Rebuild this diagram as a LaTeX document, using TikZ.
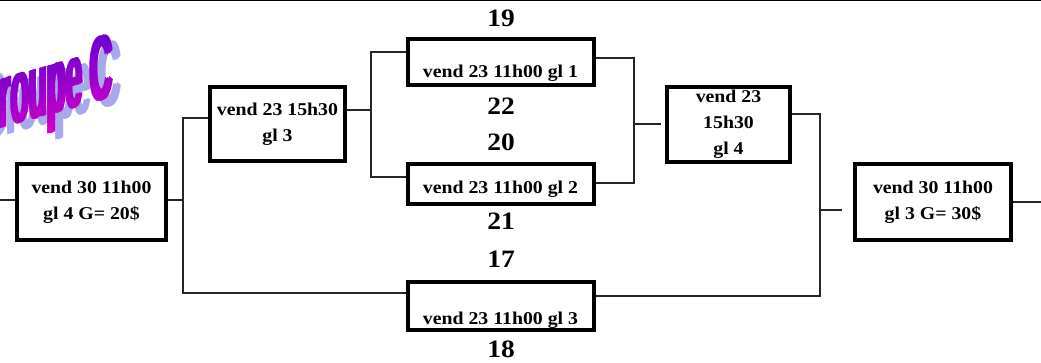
\documentclass[tikz,border=0pt]{standalone}
\usepackage{fontspec}
\newfontfamily\boxfont[FakeStretch=1.1]{Liberation Serif}
\newfontfamily\wafont{Liberation Sans}
\definecolor{wtop}{RGB}{100,0,208}
\definecolor{wbot}{RGB}{210,0,200}
\definecolor{wshadow}{RGB}{168,168,236}
\tikzset{
  matchbox/.style={draw, line width=4pt, inner sep=2pt, align=center,
    font=\boxfont\bfseries\fontsize{18}{26}\selectfont},
  score/.style={inner sep=0pt, font=\boxfont\bfseries\fontsize{25}{25}\selectfont},
  wire/.style={draw=black!85, line width=1.1pt},
  wordart/.style={font=\wafont\bfseries\fontsize{92}{92}\selectfont, inner sep=0pt,
    anchor=base east, transform shape},
  waslant/.style={yslant=0.28, xscale=0.326}
}
\begin{document}
\begin{tikzpicture}[x=1pt, y=-1pt]
\useasboundingbox (0,0) rectangle (1041,363);
\clip (0,0) rectangle (1041,363);

% top rule
\coordinate (T0) at (0,0.75);
\coordinate (T1) at (1041,0.75);
\draw[line width=1.5pt] (T0) -- (T1);

% WordArt title (shadow, then gradient face; fattened by small offsets)
\begin{scope}[shift={(120.5,103)}, waslant]
  \foreach \j in {-5.4,0,5.4}{
    \node[wordart, text=wshadow] (washadow\j) at (\j,0) {Groupe C};
  }
\end{scope}
\begin{scope}[shift={(112.5,97)}, waslant]
  \foreach \i in {0,...,11}{
    \pgfmathtruncatemacro{\pct}{100-\i*100/11}
    \begin{scope}
      \clip (-500,{-74+\i*8}) rectangle (50,{-74+(\i+1)*8+0.5});
      \foreach \j in {-5.4,0,5.4}{
        \node[wordart, text=wtop!\pct!wbot] (wa-\i-\j) at (\j,0) {Groupe C};
      }
    \end{scope}
  }
\end{scope}

% match boxes
\node[matchbox, minimum width=149pt, minimum height=76pt] (A) at (91.5,202)
  {vend 30 11h00\\gl 4 G= 20\$};
\node[matchbox, minimum width=135pt, minimum height=74pt] (B) at (277.5,124)
  {vend 23 15h30\\gl 3};
\node[matchbox, minimum width=186pt, minimum height=46pt, text height=32pt, text depth=0pt] (C1) at (500.5,62)
  {vend 23 11h00 gl 1};
\node[matchbox, minimum width=186pt, minimum height=40pt, text height=19.4pt, text depth=0pt] (C2) at (500.5,184)
  {vend 23 11h00 gl 2};
\node[matchbox, minimum width=186pt, minimum height=48pt, text height=36.6pt, text depth=0pt] (E) at (500.5,306)
  {vend 23 11h00 gl 3};
\node[matchbox, minimum width=123pt, minimum height=75pt] (D) at (728.5,124.5)
  {vend 23\\15h30\\gl 4};
\node[matchbox, minimum width=156pt, minimum height=76pt] (F) at (933,202)
  {vend 30 11h00\\gl 3 G= 30\$};

% scores
\node[score] (s19) at (501,18.5) {19};
\node[score] (s22) at (501,106.5) {22};
\node[score] (s20) at (501,142) {20};
\node[score] (s21) at (501,221) {21};
\node[score] (s17) at (501,259) {17};
\node[score] (s18) at (501,349) {18};

% junction coordinates
\coordinate (L0) at (0,200);
\coordinate (j1mid) at (183,200);
\coordinate (j1top) at (183,118);
\coordinate (j1bot) at (183,293);
\coordinate (j2mid) at (371,110);
\coordinate (j2top) at (371,52);
\coordinate (j2bot) at (371,177);
\coordinate (j3top) at (634,58);
\coordinate (j3mid) at (634,124);
\coordinate (j3bot) at (634,183);
\coordinate (j4top) at (820,114);
\coordinate (j4mid) at (820,210);
\coordinate (j4bot) at (820,296);
\coordinate (R0) at (1041,202);

% connectors
\draw[wire] (L0) -- (A.west |- L0);
\draw[wire] (A.east |- j1mid) -- (j1mid);
\draw[wire] (B.west |- j1top) -- (j1top) -- (j1bot) -- (E.west |- j1bot);
\draw[wire] (B.east |- j2mid) -- (j2mid);
\draw[wire] (C1.west |- j2top) -- (j2top) -- (j2bot) -- (C2.west |- j2bot);
\draw[wire] (C1.east |- j3top) -- (j3top) -- (j3bot) -- (C2.east |- j3bot);
\draw[wire, shorten >=4pt] (j3mid) -- (D.west |- j3mid);
\draw[wire] (D.east |- j4top) -- (j4top) -- (j4bot) -- (E.east |- j4bot);
\draw[wire, shorten >=11pt] (j4mid) -- (F.west |- j4mid);
\draw[wire] (F.east |- R0) -- (R0);
\end{tikzpicture}
\end{document}
